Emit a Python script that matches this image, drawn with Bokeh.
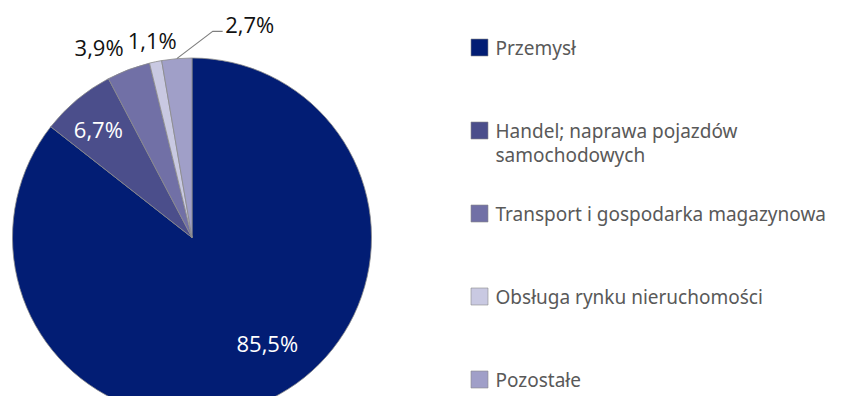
import math
from bokeh.plotting import figure
from bokeh.models import Range1d
from bokeh.core.properties import value
from bokeh.embed import file_html
from bokeh.resources import INLINE

# ---- data ----
categories = ["Przemysł", "Handel; naprawa pojazdów\nsamochodowych",
              "Transport i gospodarka magazynowa", "Obsługa rynku nieruchomości",
              "Pozostałe"]
shares = [85.5, 6.7, 3.9, 1.1, 2.7]
pct_labels = ["85,5%", "6,7%", "3,9%", "1,1%", "2,7%"]

# ---- style ----
colors = ["#021D74", "#4B4E8B", "#7170A6", "#C9C9E2", "#A09FC8"]
label_colors = ["white", "white", "#111111", "#111111", "#111111"]
label_r = [0.72, 0.80, 1.18, 1.12, 1.23]        # radial factor
label_shift = [9.7, 0.9, 5.3, -0.3, -20.0]     # degrees

W, H = 837, 396
cx, cy, R = 191.5, 159.0, 179.5

p = figure(width=W, height=H, output_backend="svg", toolbar_location=None,
           x_range=Range1d(0, W), y_range=Range1d(0, H),
           min_border=0, outline_line_color=None)
p.axis.visible = False
p.grid.visible = False
p.background_fill_color = "white"

total = sum(shares)
starts, ends, mids = [], [], []
cum = 0.0
for s in shares:
    a0 = math.pi / 2 - 2 * math.pi * cum / total
    cum += s
    a1 = math.pi / 2 - 2 * math.pi * cum / total
    starts.append(a0)
    ends.append(a1)
    mids.append((a0 + a1) / 2)

p.wedge(x=[cx] * len(shares), y=[cy] * len(shares), radius=R,
        start_angle=starts, end_angle=ends, direction="clock",
        fill_color=colors, line_color="#8A8A8A", line_width=0.8)

lx, ly = [], []
for m, rf, sh in zip(mids, label_r, label_shift):
    a = m + math.radians(sh)
    lx.append(cx + rf * R * math.cos(a))
    ly.append(cy + rf * R * math.sin(a))

p.text(x=lx, y=ly, text=pct_labels, text_color=label_colors,
       text_font=value("Open Sans"), text_font_size="22px",
       text_align="center", text_baseline="middle")

# leader line for last slice
i = 4
p0x = cx + R * math.cos(mids[i])
p0y = cy + R * math.sin(mids[i])
p.line(x=[p0x, lx[i] - 37, lx[i] - 27], y=[p0y, ly[i] - 7, ly[i] - 7],
       line_color="#7F7F7F", line_width=1.2)

# legend
leg_x_sq = 479.0
leg_x_txt = 495.0
leg_top = 349.0
leg_step = 83.0
line_h = 24.0
sq_x, sq_y, tx, ty, tt = [], [], [], [], []
for k, cat in enumerate(categories):
    yk = leg_top - k * leg_step
    sq_x.append(leg_x_sq)
    sq_y.append(yk)
    for j, ln in enumerate(cat.split("\n")):
        tx.append(leg_x_txt)
        ty.append(yk - j * line_h)
        tt.append(ln)

p.scatter(x=sq_x, y=sq_y, marker="square", size=17, fill_color=colors,
          line_color="#8A8A8A", line_width=0.6)
p.text(x=tx, y=ty, text=tt, text_color="#595959",
       text_font=value("Noto Sans"), text_font_size="19px",
       text_align="left", text_baseline="middle")

open("out.html", "w").write(file_html(p, INLINE))
